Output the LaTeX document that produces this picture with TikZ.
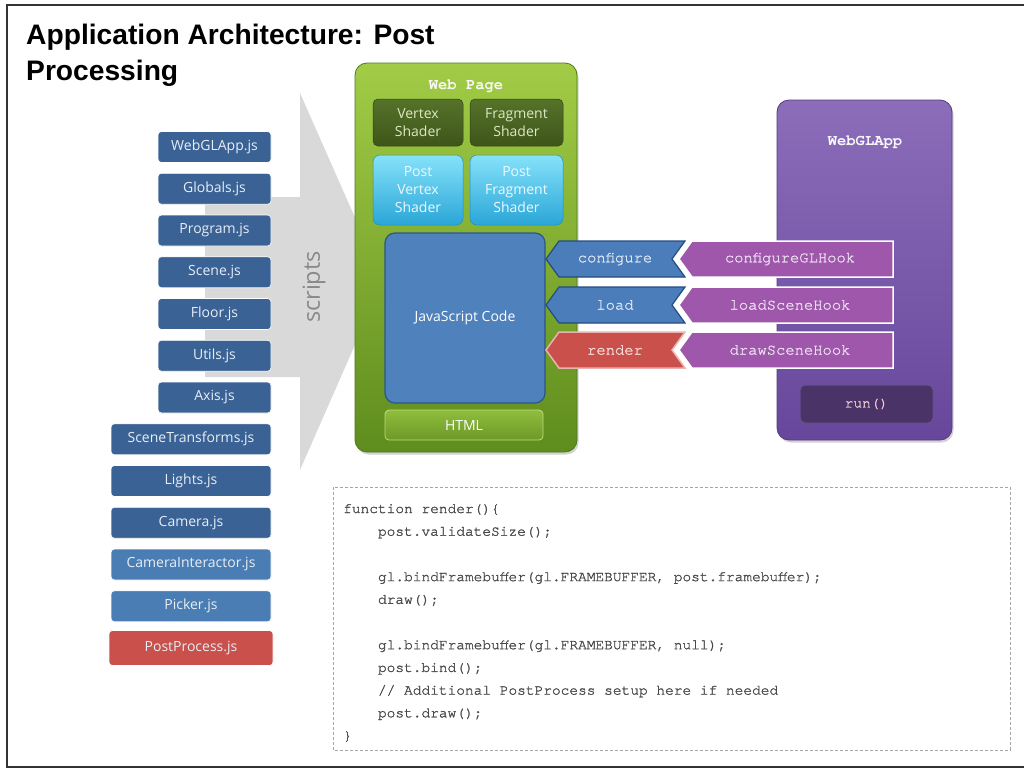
\documentclass[tikz,border=0pt]{standalone}
\usepackage{fontspec}
\setmainfont{Open Sans}
\newfontfamily\titlefont{Liberation Sans}
\newfontfamily\codefont{texgyrecursor}[Extension=.otf, UprightFont=*-regular, BoldFont=*-bold, FakeBold=1.4]
\newfontfamily\labelfont{texgyrecursor}[Extension=.otf, UprightFont=*-regular, BoldFont=*-bold, FakeBold=1.3]
\newfontfamily\headfont{texgyrecursor}[Extension=.otf, UprightFont=*-regular, BoldFont=*-bold]
\usetikzlibrary{shadows}
\definecolor{fileblue}{HTML}{3A6295}
\definecolor{filelight}{HTML}{4A7DB3}
\definecolor{filered}{HTML}{C9504B}
\definecolor{filetext}{HTML}{E8EEF6}
\definecolor{arrowgrey}{HTML}{D9D9D9}
\definecolor{scriptgrey}{HTML}{8A8A8A}
\definecolor{greentop}{HTML}{A2CC46}
\definecolor{greenbot}{HTML}{5F8D1E}
\definecolor{greenline}{HTML}{4E7A18}
\definecolor{olivetop}{HTML}{56722A}
\definecolor{olivebot}{HTML}{3E5519}
\definecolor{olivetext}{HTML}{DDE8C4}
\definecolor{cyantop}{HTML}{86E2F9}
\definecolor{cyanbot}{HTML}{2AA6D8}
\definecolor{jsblue}{HTML}{4F81BD}
\definecolor{jsline}{HTML}{2B5788}
\definecolor{htmltop}{HTML}{8FBE3E}
\definecolor{htmlbot}{HTML}{6D9827}
\definecolor{purpletop}{HTML}{8C6DBA}
\definecolor{purplebot}{HTML}{66479B}
\definecolor{purpleline}{HTML}{563A80}
\definecolor{hookpurple}{HTML}{9E57AA}
\definecolor{hooktext}{HTML}{EBDDF0}
\definecolor{tagblue}{HTML}{4A7DBA}
\definecolor{tagline}{HTML}{244D80}
\definecolor{tagtext}{HTML}{DCE6F2}
\definecolor{redline}{HTML}{EBB3B0}
\definecolor{redtext}{HTML}{F6DCDA}
\definecolor{rundark}{HTML}{4A3366}
\definecolor{runline}{HTML}{6A5090}
\definecolor{codegrey}{HTML}{4A4A4A}
\definecolor{dashgrey}{HTML}{A6A6A6}
\begin{document}
\begin{tikzpicture}[x=1pt,y=-1pt,
  file/.style={rounded corners=3.5pt, fill=fileblue, text=filetext,
    font=\fontsize{14}{16}\selectfont, minimum height=31, inner sep=0,
    draw=white, line width=0.6},
  lightfile/.style={file, fill=filelight},
  redfile/.style={file, fill=filered, minimum height=35},
  olivebox/.style={rounded corners=5pt, top color=olivetop, bottom color=olivebot,
    draw=olivebot!80!black, line width=0.5, text=olivetext, align=center,
    font=\fontsize{14}{18}\selectfont, inner sep=0},
  cyanbox/.style={rounded corners=7pt, top color=cyantop, bottom color=cyanbot,
    draw=cyanbot!85!black, line width=0.5, text=white!93!cyan, align=center,
    font=\fontsize{14}{18}\selectfont, inner sep=0},
  monolabel/.style={font=\labelfont\fontsize{15.5}{17}\selectfont},
  monotitle/.style={font=\headfont\bfseries\fontsize{15.5}{17}\selectfont, text=white!95!gray},
  bluetag/.style={fill=tagblue, draw=tagline, line width=1.2},
  redtag/.style={fill=filered, draw=redline, line width=1.5},
  hook/.style={fill=hookpurple, draw=white, line width=1.5},
  codeline/.style={anchor=base west, inner sep=0, text=codegrey,
    font=\codefont\fontsize{14.5}{17}\selectfont}
]
\useasboundingbox (0,0) rectangle (1024,769);
\fill[white] (0,0) rectangle (1024,769);
% frame
\draw[line width=2, black!80] (1024,5) -- (7,5) -- (7,767) -- (1024,767);

% title
\node[anchor=base west, inner sep=0, font=\titlefont\bfseries\fontsize{28.2}{36}\selectfont] (title1) at (26,44) {Application Architecture: Post};
\node[anchor=base west, inner sep=0, font=\titlefont\bfseries\fontsize{28.2}{36}\selectfont] (title2) at (26,80) {Processing};

% big grey arrow
\fill[arrowgrey] (205,197) -- (300,197) -- (300,93) -- (383,281) -- (300,470) -- (300,377) -- (205,377) -- cycle;
\node[rotate=90, text=scriptgrey, font=\fontsize{23.5}{26}\selectfont] (scripts) at (314,287) {scripts};

% files
\node[file, minimum width=113] (f1) at (214.5,147) {WebGLApp.js};
\node[file, minimum width=113] (f2) at (214.5,188.75) {Globals.js};
\node[file, minimum width=113] (f3) at (214.5,230.5) {Program.js};
\node[file, minimum width=113] (f4) at (214.5,272.25) {Scene.js};
\node[file, minimum width=113] (f5) at (214.5,314) {Floor.js};
\node[file, minimum width=113] (f6) at (214.5,355.75) {Utils.js};
\node[file, minimum width=113] (f7) at (214.5,397.5) {Axis.js};
\node[file, minimum width=160] (f8) at (191,439.25) {SceneTransforms.js};
\node[file, minimum width=160] (f9) at (191,481) {Lights.js};
\node[file, minimum width=160] (f10) at (191,522.75) {Camera.js};
\node[lightfile, minimum width=160] (f11) at (191,564.5) {CameraInteractor.js};
\node[lightfile, minimum width=160] (f12) at (191,606.25) {Picker.js};
\node[redfile, minimum width=164] (f13) at (191,648) {PostProcess.js};

% web page
\node[rounded corners=12pt, top color=greentop, bottom color=greenbot, draw=greenline,
  line width=0.8, minimum width=222, minimum height=389, inner sep=0,
  drop shadow={shadow xshift=1.5pt, shadow yshift=-2.5pt, opacity=0.35}] (web) at (466,257.5) {};
\node[monotitle] (webtitle) at (466,86) {Web Page};
\node[olivebox, minimum width=90, minimum height=47] (vs) at (418,122.5) {Vertex\\Shader};
\node[olivebox, minimum width=93, minimum height=47] (fs) at (516.5,122.5) {Fragment\\Shader};
\node[cyanbox, minimum width=90, minimum height=70] (pvs) at (418,190) {Post\\Vertex\\Shader};
\node[cyanbox, minimum width=93, minimum height=70] (pfs) at (516.5,190) {Post\\Fragment\\Shader};
\node[rounded corners=10pt, fill=jsblue, draw=jsline, line width=1.2, minimum width=160,
  minimum height=170, inner sep=0, text=white, font=\fontsize{14}{16}\selectfont] (js) at (465,318) {JavaScript Code};
\node[rounded corners=4pt, top color=htmltop, bottom color=htmlbot, draw=greentop!70!white,
  line width=0.8, minimum width=158, minimum height=30, inner sep=0, text=white,
  font=\fontsize{14}{16}\selectfont] (html) at (464,425) {HTML};

% WebGLApp
\node[rounded corners=12pt, top color=purpletop, bottom color=purplebot, draw=purpleline,
  line width=0.8, minimum width=175, minimum height=340, inner sep=0,
  drop shadow={shadow xshift=1.5pt, shadow yshift=-2.5pt, opacity=0.35}] (app) at (864.5,270) {};
\node[monotitle] (apptitle) at (865,142) {WebGLApp};
\node[rounded corners=5pt, fill=rundark, draw=runline, line width=1, minimum width=133,
  minimum height=38, inner sep=0, text=white!80!purple,
  font=\labelfont\fontsize{14.5}{17}\selectfont] (run) at (866.5,404) {run()};

% tags row 1
\path[bluetag] (546,259) -- (559,241) -- (685,241) -- (672,259) -- (685,277) -- (559,277) -- cycle;
\path[hook] (679,259) -- (692,241) -- (893,241) -- (893,277) -- (692,277) -- cycle;
\node[monolabel, text=tagtext] (cfg) at (615,259) {configure};
\node[monolabel, text=hooktext] (cfghook) at (790,259) {configureGLHook};
% row 2
\path[bluetag] (546,305) -- (559,287) -- (685,287) -- (672,305) -- (685,323) -- (559,323) -- cycle;
\path[hook] (679,305) -- (692,287) -- (893,287) -- (893,323) -- (692,323) -- cycle;
\node[monolabel, text=tagtext] (load) at (615,305) {load};
\node[monolabel, text=hooktext] (loadhook) at (790,305) {loadSceneHook};
% row 3
\path[redtag] (546,350) -- (559,332) -- (685,332) -- (672,350) -- (685,368) -- (559,368) -- cycle;
\path[hook] (679,350) -- (692,332) -- (893,332) -- (893,368) -- (692,368) -- cycle;
\node[monolabel, text=redtext] (render) at (615,350) {render};
\node[monolabel, text=hooktext] (drawhook) at (790,350) {drawSceneHook};

% code box
\draw[dashgrey, line width=1, dash pattern=on 3pt off 2pt] (333,487) rectangle (1010,750);
\node[codeline] (c1) at (343,513) {function render()\{};
\node[codeline] (c2) at (377.8,535.7) {post.validateSize();};
\node[codeline] (c3) at (377.8,581.1) {gl.bindFramebuffer(gl.FRAMEBUFFER, post.framebuffer);};
\node[codeline] (c4) at (377.8,603.8) {draw();};
\node[codeline] (c5) at (377.8,649.2) {gl.bindFramebuffer(gl.FRAMEBUFFER, null);};
\node[codeline] (c6) at (377.8,671.9) {post.bind();};
\node[codeline] (c7) at (377.8,694.6) {// Additional PostProcess setup here if needed};
\node[codeline] (c8) at (377.8,717.3) {post.draw();};
\node[codeline] (c9) at (343,740) {\}};
\end{tikzpicture}
\end{document}
